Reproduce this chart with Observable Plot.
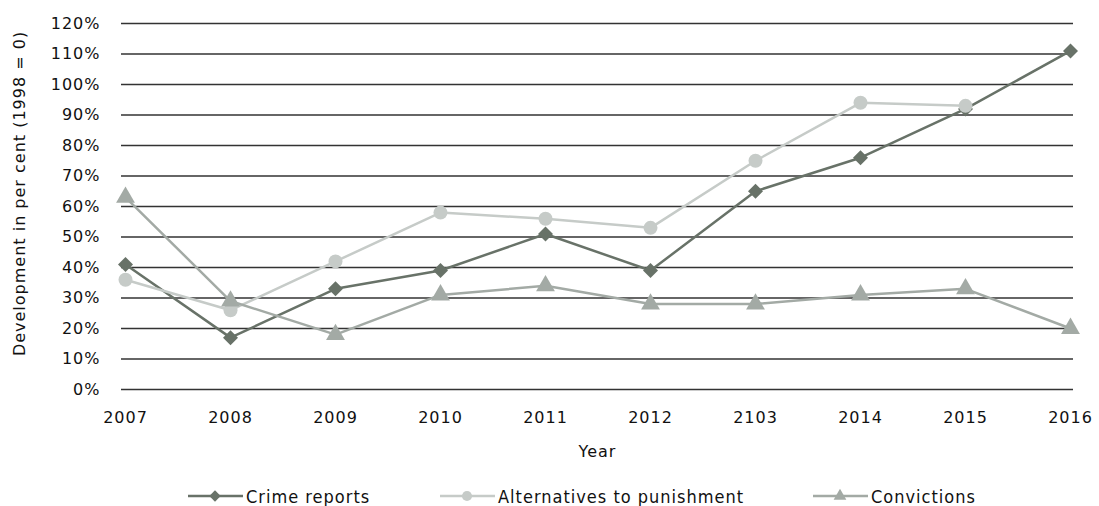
<!DOCTYPE html>
<html>
<head>
<meta charset="utf-8">
<script src="https://cdn.jsdelivr.net/npm/d3@7"></script>
<script src="https://cdn.jsdelivr.net/npm/@observablehq/plot@0.6"></script>
<style>
  html, body { margin: 0; padding: 0; background: #fff; }
  #chart svg { display: block; }
  #chart svg text { letter-spacing: 1px; }
  .legend { height: 36px; position: relative;
    font-family: "DejaVu Sans Condensed", "DejaVu Sans", sans-serif; font-size: 18px; letter-spacing: 1px; color: #111; }
  .item { position: absolute; top: 15px; height: 22px; display: flex; align-items: center; white-space: nowrap; }
  .item svg { display: block; margin-right: 3px; }
</style>
</head>
<body>
<div id="chart"></div>
<div class="legend" id="legend"></div>
<script>
const years = ["2007","2008","2009","2010","2011","2012","2103","2014","2015","2016"];
const crimeReports = [41,17,33,39,51,39,65,76,92,111];
const alternatives = [36,26,42,58,56,53,75,94,93,null];
const convictions = [63,29,18,31,34,28,28,31,33,20];
const yTicks = [0,10,20,30,40,50,60,70,80,90,100,110,120];

const seriesNames = ["Crime reports","Alternatives to punishment","Convictions"];
const seriesValues = [crimeReports, alternatives, convictions];
const colors = ["#687268", "#c6cbc8", "#a3aaa5"];
const symbols = ["square", "circle", "triangle"];
const sizes = [6, 7, 7];
const rotations = [45, 0, 0];

const data = [];
seriesNames.forEach((s, i) => years.forEach((y, j) => {
  if (seriesValues[i][j] != null) data.push({series: s, year: y, value: seriesValues[i][j]});
}));

const marks = [
  Plot.gridY(yTicks, {stroke: "#333", strokeOpacity: 1, strokeWidth: 1.5}),
  Plot.axisY({ticks: yTicks, tickSize: 0, tickPadding: 21, tickFormat: d => d + "%",
    label: "Development in per cent (1998 = 0)", labelAnchor: "center", labelArrow: "none", labelOffset: 108}),
  Plot.axisX({tickSize: 0, tickPadding: 22, label: "Year", labelAnchor: "center", labelArrow: "none", labelOffset: 67})
];
seriesNames.forEach((s, i) => {
  const d = data.filter(r => r.series === s);
  marks.push(Plot.line(d, {x: "year", y: "value", stroke: colors[i], strokeWidth: 2.5}));
  marks.push(Plot.dot(d, {x: "year", y: "value", fill: colors[i], symbol: symbols[i], r: sizes[i], rotate: rotations[i], stroke: "none"}));
});

const chart = Plot.plot({
  width: 1099,
  height: 470,
  marginTop: 23,
  marginBottom: 81,
  marginLeft: 121,
  marginRight: 26,
  style: {fontFamily: "DejaVu Sans, sans-serif", fontSize: "16px", color: "#111", background: "#fff"},
  x: {type: "point", domain: years, padding: 0},
  y: {domain: [0, 120]},
  marks
});
document.getElementById("chart").appendChild(chart);
const yLabel = chart.querySelector('[aria-label="y-axis label"] text');
if (yLabel) yLabel.setAttribute("dx", "13");

const legend = document.getElementById("legend");
const lefts = [188, 440, 813];
seriesNames.forEach((s, i) => {
  const item = document.createElement("div");
  item.className = "item";
  item.style.left = lefts[i] + "px";
  const path = i === 0
    ? `<rect x="-4" y="-4" width="8" height="8" transform="translate(27,11) rotate(45)" fill="${colors[i]}"/>`
    : `<path d="${d3.symbol(i === 1 ? d3.symbolCircle : d3.symbolTriangle, i === 1 ? 80 : 70)()}" transform="translate(27,11)" fill="${colors[i]}"/>`;
  item.innerHTML = `<svg width="55" height="22"><line x1="0" x2="55" y1="11" y2="11" stroke="${colors[i]}" stroke-width="2.5"/>${path}</svg><span>${s}</span>`;
  legend.appendChild(item);
});
</script>
</body>
</html>
